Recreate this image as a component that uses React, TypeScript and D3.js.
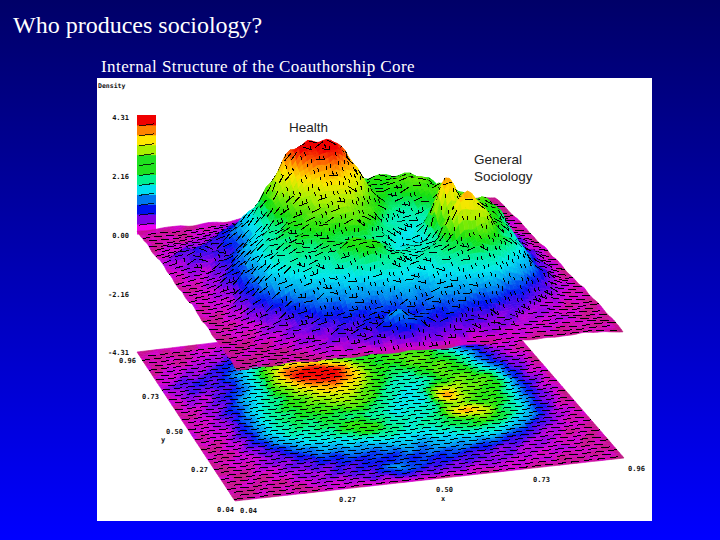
import React, { useMemo } from "react";
import * as d3 from "d3";

// Density heights: rows run from y=0.96 (back) to y=0.04 (front), columns x=0.04..0.96
const row100 = [.1,.1,.15,.1,.15,.12,.2,.15,.12,.2,.15,.2,.2,.25,.2,.15,.1,.15,.1,.1,.05];
const row095 = [.1,.15,.1,.15,.2,.25,.35,.4,.45,.5,.5,.55,.6,.6,.55,.4,.3,.2,.15,.1,.1];
const row090 = [.15,.1,.15,.2,.3,.5,.8,1.0,1.1,1.0,1.0,1.1,1.2,1.1,1.0,.8,.5,.3,.2,.15,.1];
const row085 = [.1,.2,.25,.3,.55,.9,1.4,1.9,2.1,1.9,1.7,1.9,2.1,2.0,1.9,1.5,.8,.4,.2,.15,.1];
const row080 = [.15,.25,.35,.45,.75,1.4,2.2,3.1,3.4,3.2,2.6,2.1,2.1,2.2,2.3,2.0,1.3,.6,.3,.2,.15];
const row075 = [.2,.4,.55,.5,.8,1.5,2.5,3.8,4.05,4.05,3.6,2.4,2.1,2.2,2.4,2.1,1.8,1.0,.4,.2,.1];
const row070 = [.15,.3,.4,.4,.8,1.5,2.5,3.5,3.9,4.05,3.5,2.5,2.0,2.0,2.2,2.3,2.0,1.1,.5,.25,.1];
const row065 = [.15,.25,.3,.55,1.1,1.6,2.3,2.9,3.4,3.5,3.0,2.3,1.8,1.7,2.1,2.3,2.1,1.5,.7,.3,.1];
const row060 = [.1,.2,.3,.6,1.2,1.7,2.1,2.5,2.9,3.0,2.6,2.0,1.6,1.5,1.9,2.4,2.3,2.0,.8,.3,.15];
const row055 = [.15,.15,.35,.7,1.3,1.8,2.1,2.3,2.5,2.6,2.3,1.8,1.45,1.6,2.9,2.6,2.3,2.1,.85,.35,.1];
const row050 = [.1,.2,.3,.7,1.4,1.8,2.0,2.2,2.2,2.3,2.0,1.6,1.4,1.7,3.55,2.5,2.2,1.9,.8,.3,.15];
const row045 = [.2,.15,.3,.7,1.4,1.8,1.9,2.0,1.9,1.9,1.7,1.5,1.5,1.8,2.6,2.3,2.2,1.8,.8,.3,.1];
const row040 = [.15,.15,.3,.7,1.3,1.7,1.8,1.9,2.1,2.1,1.8,1.6,1.6,1.9,3.3,3.2,2.1,1.6,.7,.25,.1];
const row035 = [.1,.15,.25,.6,1.1,1.5,1.6,1.7,2.0,2.2,1.9,1.6,1.7,1.9,2.2,2.4,2.0,1.4,.65,.25,.1];
const row030 = [.15,.1,.25,.45,.75,1.1,1.3,1.35,1.5,1.6,1.6,1.4,1.5,1.7,1.9,1.9,1.5,.95,.4,.2,.15];
const row025 = [.1,.15,.2,.3,.55,.8,1.0,1.05,1.1,1.15,1.25,1.15,1.25,1.35,1.4,1.35,.95,.5,.3,.15,.1];
const row020 = [.1,.1,.2,.3,.4,.55,.7,.8,.8,.85,.95,.95,1.05,1.05,.95,.75,.5,.3,.2,.1,.15];
const row015 = [.15,.1,.15,.2,.3,.4,.5,.55,.6,.65,.75,.75,.75,.6,.5,.4,.3,.25,.15,.15,.1];
const row010 = [.1,.15,.1,.15,.25,.3,.4,.45,.6,1.0,.75,.55,.5,.4,.35,.3,.2,.2,.2,.1,.1];
const row005 = [.1,.1,.15,.1,.15,.25,.25,.35,.4,.55,.45,.4,.3,.25,.25,.2,.2,.15,.1,.15,.1];
const row000 = [.05,.1,.1,.15,.1,.15,.1,.15,.1,.15,.1,.1,.15,.1,.15,.1,.1,.1,.15,.1,.05];
const rowsFrontToBack = [row000,row005,row010,row015,row020,row025,row030,row035,row040,row045,row050,row055,row060,row065,row070,row075,row080,row085,row090,row095,row100];

// small bumps of the surface, read as a repeating patch
const lump0 = [.05,-.06,.09,-.03,-.08,.07,-.02,.06,-.07];
const lump1 = [-.07,.08,-.02,.1,.02,-.09,.06,-.05,.03];
const lump2 = [.09,-.03,-.08,.04,-.06,.03,.1,-.08,.01];
const lump3 = [-.02,.06,.07,-.09,.08,-.04,-.07,.09,-.05];
const lump4 = [.07,-.09,.02,.06,-.03,.1,-.05,.02,.08];
const lump5 = [-.08,.03,-.06,.09,-.07,.01,.08,-.06,.04];
const lump6 = [.03,.08,-.09,-.02,.07,-.08,.04,.07,-.03];
const lump7 = [-.05,-.02,.1,-.07,.04,.06,-.09,.03,.09];
const lump8 = [.08,-.07,.03,.05,-.09,.02,.06,-.04,-.06];
const lumps = [lump0,lump1,lump2,lump3,lump4,lump5,lump6,lump7,lump8];

// colour ramp of the surface
const rampLevels = [0,.1,.18,.35,.65,1.0,1.4,1.8,2.1,2.7,3.2,3.6,4.0];
const rampColors = ["#b8207a","#c81090","#d400d0","#8000e8","#0010f0","#0090f0","#00e8f0","#00f090","#10e010","#a8f000","#ffe600","#ff8200","#f00000"];
// colour bar, bottom to top
const barColors = ["#f000f0","#8000e8","#0010f0","#0078f0","#00e0f0","#00f090","#20e020","#20e020","#a8f000","#ffe600","#ff8200","#f00000"];
const zTicks = [["4.31",120],["2.16",179],["0.00",238],["-2.16",297],["-4.31",355]] as const;
const yTicks = [["0.96",119,363],["0.73",142,399],["0.50",166,434],["0.27",191,472],["0.04",217,512]] as const;
const xTicks = [["0.04",240,513],["0.27",339,502],["0.50",436,492],["0.73",533,482],["0.96",628,471]] as const;

const W = 720, H = 540;
const N = 90;

const floorX = [235,624,495,137], floorY = [501,458,309,352];
const topX = [237,623,495,137], topY = [372,333,199,234];

const bilinear = (c: number[], u: number, v: number) => {
  const front = d3.scaleLinear().domain([0,1]).range([c[0],c[1]]);
  const back = d3.scaleLinear().domain([0,1]).range([c[3],c[2]]);
  return d3.scaleLinear().domain([0,1]).range([front(u),back(u)])(v);
};
const zMix = d3.scaleLinear().domain([-4.31,0]);
const project = (u:number,v:number,z:number):[number,number] => {
  const fx = bilinear(floorX,u,v), fy = bilinear(floorY,u,v);
  const tx = bilinear(topX,u,v), ty = bilinear(topY,u,v);
  return [zMix.copy().range([fx,tx])(z), zMix.copy().range([fy,ty])(z)];
};
const colorOf = d3.scaleLinear<string>().domain(rampLevels).range(rampColors).interpolate(d3.interpolateRgb).clamp(true);

const cr = (a:number,b:number,c:number,d:number,t:number) =>
  0.5*((2*b)+(-a+c)*t+(2*a-5*b+4*c-d)*t*t+(-a+3*b-3*c+d)*t*t*t);
const cell = (i:number,j:number) => {
  const r = rowsFrontToBack[Math.max(0,Math.min(20,j))];
  return r[Math.max(0,Math.min(20,i))];
};
const sample = (u:number,v:number) => {
  const x=u*20, y=v*20;
  const i=Math.min(19,Math.floor(x)), j=Math.min(19,Math.floor(y));
  const tx=x-i, ty=y-j;
  const col=(jj:number)=>cr(cell(i-1,jj),cell(i,jj),cell(i+1,jj),cell(i+2,jj),tx);
  return Math.max(0,cr(col(j-1),col(j),col(j+1),col(j+2),ty));
};
const lumpAt = (u:number,v:number) => {
  const x=u*40, y=v*40;
  const i=Math.floor(x), j=Math.floor(y);
  const tx=x-i, ty=y-j;
  const g=(a:number,b:number)=>lumps[((b%9)+9)%9][((a%9)+9)%9];
  const col=(jj:number)=>cr(g(i-1,jj),g(i,jj),g(i+1,jj),g(i+2,jj),tx);
  return cr(col(j-1),col(j),col(j+1),col(j+2),ty);
};

const toward=(a:[number,number],b:[number,number],len:number):[number,number]=>{
  const l=Math.hypot(b[0]-a[0],b[1]-a[1])||1;
  const k=Math.min(1,len/l);
  return [a[0]+(b[0]-a[0])*k,a[1]+(b[1]-a[1])*k];
};

function Mesh(){
  const els = useMemo(()=>{
    const base:number[][] = d3.range(N+1).map(j=>d3.range(N+1).map(i=>sample(i/N,j/N)));
    const bump:number[][] = d3.range(N+1).map(j=>d3.range(N+1).map(i=>lumpAt(i/N,j/N)));
    const colorZ=(i:number,j:number)=>Math.max(0,base[j][i]+bump[j][i]*(base[j][i]<.3?0.9:1.5));
    const geoZ=(i:number,j:number)=>Math.max(0,base[j][i]+bump[j][i]*(base[j][i]<.3?0.15:1.2));
    const out:React.ReactNode[] = [];
    const layer=(name:string,flat:boolean)=>{
      const P=(i:number,j:number)=>project(i/N,j/N,flat?-4.31:geoZ(i,j));
      for(let j=N-1;j>=0;j--){
        for(let i=0;i<N;i++){
          const a=P(i,j),b=P(i+1,j),c=P(i+1,j+1),d=P(i,j+1);
          const z=(colorZ(i,j)+colorZ(i+1,j)+colorZ(i,j+1)+colorZ(i+1,j+1))/4;
          const f=colorOf(z);
          out.push(<path key={name+i+"_"+j} d={`M${a[0].toFixed(1)} ${a[1].toFixed(1)}L${b[0].toFixed(1)} ${b[1].toFixed(1)}L${c[0].toFixed(1)} ${c[1].toFixed(1)}L${d[0].toFixed(1)} ${d[1].toFixed(1)}Z`} fill={f} stroke={f} strokeWidth={0.6}/>);
        }
        // wire marks sit on the back edge of the row just painted, so the next row does not cover them
        if(j%2===0 && j+3<=N){
          let dd="";
          const rowN=j/2;
          for(let i=0;i<N-1;i++){
            const a=P(i,j+1),b=P(i+2,j+1),c=P(i,j+3);
            const lv=Math.hypot(c[0]-a[0],c[1]-a[1]);
            if(lv<6.5){
              if((i+rowN)%3!==0) continue;
              const e=toward(a,b,10);
              dd+=`M${a[0].toFixed(1)} ${a[1].toFixed(1)}L${e[0].toFixed(1)} ${e[1].toFixed(1)}`;
            } else {
              if((i+rowN)%3===0) continue;
              const e=toward(a,c,4);
              dd+=`M${a[0].toFixed(1)} ${a[1].toFixed(1)}L${e[0].toFixed(1)} ${e[1].toFixed(1)}`;
            }
          }
          out.push(<path key={name+"w"+j} d={dd} fill="none" stroke="#000" strokeWidth={1} shapeRendering="crispEdges"/>);
        }
      }
    };
    layer("f",true);
    layer("t",false);
    return out;
  },[]);
  return <g>{els}</g>;
}

export default function App(){
  const barScale=d3.scaleLinear().domain([0,barColors.length]).range([234,115]);
  const label={fontFamily:"'DejaVu Sans Mono', monospace",fontSize:7,fontWeight:700,fill:"#111"} as const;
  return (
    <svg width={W} height={H} viewBox={`0 0 ${W} ${H}`} style={{position:"absolute",left:0,top:0,display:"block"}}>
      <defs>
        <linearGradient id="bg" x1="0" y1="0" x2="0" y2="1">
          <stop offset="0" stopColor="#000068"/>
          <stop offset="1" stopColor="#0000ff"/>
        </linearGradient>
      </defs>
      <rect width={W} height={H} fill="url(#bg)"/>
      <text x={13} y={33} fontFamily="'Liberation Serif', serif" fontSize={24} fill="#fff">Who produces sociology?</text>
      <text x={101} y={72} fontFamily="'Liberation Serif', serif" fontSize={17} letterSpacing={0.42} fill="#fff">Internal Structure of the Coauthorship Core</text>
      <rect x={97} y={78} width={555} height={443} fill="#fff"/>
      {barColors.map((c,i)=>(
        <g key={i}>
          <rect x={137} y={barScale(i+1)} width={19} height={barScale(i)-barScale(i+1)+0.5} fill={c}/>
          {i>0 && <path d={`M${139} ${barScale(i)+1}L${154} ${barScale(i)-1}`} stroke="#000" strokeWidth={1} opacity={0.8} shapeRendering="crispEdges"/>}
        </g>
      ))}
      <Mesh/>
      <text x={98} y={88} {...label} fontSize={6.5}>Density</text>
      {zTicks.map(([t,y])=><text key={t} x={129} y={y} textAnchor="end" {...label}>{t}</text>)}
      {yTicks.map(([t,x,y])=><text key={"y"+t} x={x} y={y} {...label}>{t}</text>)}
      {xTicks.map(([t,x,y])=><text key={"x"+t} x={x} y={y} {...label}>{t}</text>)}
      <text x={161} y={442} {...label}>y</text>
      <text x={441} y={501} {...label}>x</text>
      <text x={289} y={132} fontFamily="'Liberation Sans', sans-serif" fontSize={13.5} fill="#222">Health</text>
      <text x={474} y={164} fontFamily="'Liberation Sans', sans-serif" fontSize={13.5} fill="#222">General</text>
      <text x={474} y={181} fontFamily="'Liberation Sans', sans-serif" fontSize={13.5} fill="#222">Sociology</text>
    </svg>
  );
}
